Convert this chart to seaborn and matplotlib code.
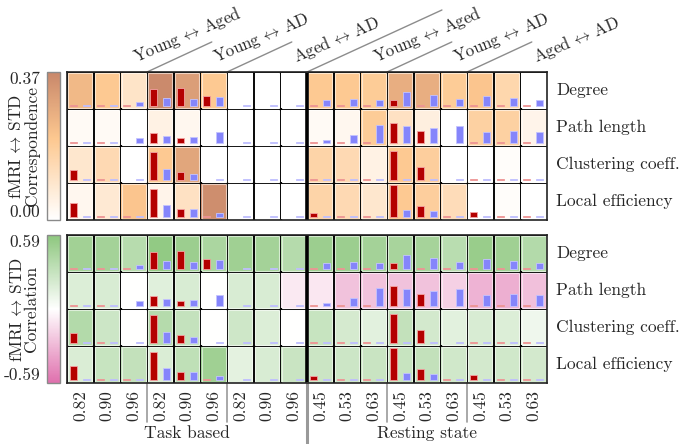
import numpy as np
import pandas as pd
import matplotlib
matplotlib.use("Agg")
import matplotlib.pyplot as plt
import seaborn as sns
from matplotlib.colors import LinearSegmentedColormap, Normalize
from matplotlib.patches import Rectangle
from matplotlib.transforms import blended_transform_factory

sns.set_theme(style="white")
plt.rcParams['font.family'] = ['cmr10', 'DejaVu Serif']
plt.rcParams['mathtext.fontset'] = 'cm'
plt.rcParams['axes.unicode_minus'] = False
plt.rcParams['axes.formatter.use_mathtext'] = True

nan = np.nan

measures = ["Degree", "Path length", "Clustering coeff.", "Local efficiency"]
thresholds = ["0.82", "0.90", "0.96"] * 3 + ["0.45", "0.53", "0.63"] * 3
pairs = [r"Young$\,\leftrightarrow\,$Aged", r"Young$\,\leftrightarrow\,$AD",
         r"Aged$\,\leftrightarrow\,$AD"] * 2

# fMRI <-> STD correspondence (top panel)
correspondence = np.array([
    [0.24, 0.20, 0.10, 0.36, 0.31, 0.20, 0, 0, 0, 0.20, 0.20, 0.19, 0.27, 0.27, 0.19, 0.21, 0.15, 0.00],
    [0.02, 0.02, 0.00, 0.05, 0.03, 0.00, 0, 0, 0, 0.02, 0.03, 0.19, 0.11, 0.06, 0.00, 0.17, 0.17, 0.04],
    [0.09, 0.14, 0.00, 0.20, 0.29, 0.00, 0, 0, 0, 0.16, 0.14, 0.05, 0.20, 0.18, 0.00, 0.00, 0.01, 0.00],
    [0.03, 0.08, 0.21, 0.04, 0.11, 0.35, 0, 0, 0, 0.16, 0.14, 0.09, 0.20, 0.18, 0.13, 0.00, 0.01, 0.00],
])

# fMRI <-> STD correlation (bottom panel)
correlation = np.array([
    [0.48, 0.47, 0.37, 0.56, 0.51, 0.43, 0.49, 0.47, 0.38, 0.51, 0.51, 0.47, 0.45, 0.46, 0.36, 0.53, 0.49, 0.39],
    [0.18, 0.20, 0.00, 0.16, 0.20, 0.00, 0.20, 0.20, -0.09, -0.10, -0.25, -0.25, -0.25, -0.25, -0.19, -0.31, -0.33, -0.26],
    [0.39, 0.26, 0.00, 0.38, 0.30, 0.00, 0.25, 0.18, 0.00, 0.29, 0.22, 0.15, 0.31, 0.23, 0.15, 0.20, 0.18, 0.08],
    [0.19, 0.29, 0.31, 0.19, 0.33, 0.49, 0.14, 0.20, 0.28, 0.27, 0.26, 0.28, 0.29, 0.31, 0.24, 0.23, 0.24, 0.23],
])

# bar heights as a fraction of the cell height
red_bars = np.array([
    [.04, .04, .04, .46, .48, .26, nan, nan, nan, .04, .04, .04, .16, .04, .04, .04, .04, .04],
    [.04, .04, nan, .27, .14, nan, nan, nan, nan, .04, .04, .04, .54, .32, nan, .04, .04, .04],
    [.28, .04, nan, .76, .22, nan, nan, nan, nan, .04, .04, .04, .78, .35, nan, .04, .04, .04],
    [.37, .04, .04, .76, .22, .04, nan, nan, nan, .10, .04, .04, .86, .31, .04, .14, .04, .04],
])
blue_bars = np.array([
    [.04, .04, .10, .21, .19, .24, .04, .04, .04, .17, .20, .16, .37, .30, .18, .28, .22, .16],
    [.04, .04, .14, .18, .17, .29, .04, .04, .04, .08, .21, .48, .47, .41, .45, .30, .33, .30],
    [.04, .04, .04, .31, .17, .04, .04, .04, .04, .04, .04, .04, .04, .04, .04, .04, .04, .04],
    [.04, .04, .04, .33, .21, .11, .04, .04, .04, .04, .04, .04, .18, .15, .04, .04, .04, .04],
])

cmap_corresp = LinearSegmentedColormap.from_list(
    "corresp", [(0, "#ffffff"), (0.55, "#fdc890"), (1, "#c8876a")])
cmap_correl = LinearSegmentedColormap.from_list(
    "correl", [(0, "#df70ad"), (0.5, "#ffffff"), (1, "#8dc77e")])

W, H = 680, 444
fig = plt.figure(figsize=(W / 100, H / 100), dpi=100)


def px_axes(l, t, r, b):
    return fig.add_axes([l / W, 1 - b / H, (r - l) / W, (b - t) / H])


ax_top = px_axes(67, 72, 547, 220)
cax_top = px_axes(47, 72, 60, 220)
ax_bot = px_axes(67, 235, 547, 383)
cax_bot = px_axes(47, 235, 60, 383)

panels = [
    (ax_top, cax_top, correspondence, cmap_corresp, 0.0, 0.37, ["0.37", "0.00"], "Correspondence", False),
    (ax_bot, cax_bot, correlation, cmap_correl, -0.59, 0.59, ["0.59", "-0.59"], "Correlation", thresholds),
]

fs = 12.5
x = np.arange(len(thresholds))

for ax, cax, vals, cmap, vmin, vmax, cticks, name, xlabels in panels:
    df = pd.DataFrame(vals, index=measures, columns=thresholds)
    sns.heatmap(df, ax=ax, cbar_ax=cax, cmap=cmap, vmin=vmin, vmax=vmax,
                linewidths=1.2, linecolor="black",
                xticklabels=xlabels, yticklabels=False)
    norm = Normalize(vmin, vmax)

    # lighter inner edge of every cell
    for j in range(vals.shape[0]):
        for i in range(vals.shape[1]):
            c = np.array(cmap(norm(vals[j, i]))[:3])
            edge = c + (1 - c) * 0.55
            ax.add_patch(Rectangle((i + 0.05, j + 0.04), 0.9, 0.92, fill=False,
                                   edgecolor=edge, linewidth=0.8))

    # the bars inside the cells
    for j in range(vals.shape[0]):
        m = ~np.isnan(red_bars[j])
        ax.bar(x[m] + 0.245, -red_bars[j][m], bottom=j + 0.92, width=0.27,
               color="#b40000", edgecolor="#f3a3a3", linewidth=0.6)
        m = ~np.isnan(blue_bars[j])
        ax.bar(x[m] + 0.73, -blue_bars[j][m], bottom=j + 0.92, width=0.27,
               color="#8585fb", edgecolor="#c4c4ff", linewidth=0.6)

    ax.axvline(9, color="black", lw=2.6)
    for sp in ax.spines.values():
        sp.set_visible(True)
        sp.set_color("#222222")
        sp.set_linewidth(1.2)

    for j, meas in enumerate(measures):
        ax.text(18.35, j + 0.5, meas, va="center", ha="left", fontsize=fs)

    # colorbar
    cbar = ax.collections[0].colorbar
    cbar.outline.set_edgecolor("#8a8a8a")
    cbar.outline.set_linewidth(1.0)
    cax.yaxis.set_ticks_position("left")
    cax.set_yticks([vmax, vmin])
    cax.set_yticklabels(cticks, fontsize=fs)
    cax.tick_params(length=0, pad=5)
    labs = cax.get_yticklabels()
    labs[0].set_va("top")
    labs[1].set_va("bottom")
    pos = cax.get_position()
    fig.text(24 / W, pos.y0 + pos.height / 2, "fMRI$\\,\\leftrightarrow\\,$STD\n" + name,
             rotation=90, ha="center", va="center", multialignment="center",
             fontsize=fs, linespacing=0.95)

# comparison labels and guide lines above the grid
tr_top = blended_transform_factory(ax_top.transData, ax_top.transAxes)
for k, lab in enumerate(pairs):
    b = 3 * (k + 1)
    ax_top.text(b - 0.41, 1.065, lab, transform=tr_top, rotation=23,
                rotation_mode="anchor", ha="left", va="baseline", fontsize=12.2)
    if b < 18:
        if b == 9:
            ax_top.plot([b, b + 5.06], [1, 1.419], transform=tr_top,
                        color="#8c8c8c", lw=1, clip_on=False)
        else:
            ax_top.plot([b, b + 2.43], [1, 1.203], transform=tr_top,
                        color="#8c8c8c", lw=1, clip_on=False)

# threshold labels and group separators below the grid
ax_bot.set_xticks(x + 0.5)
ax_bot.set_xticklabels(thresholds, rotation=90, fontsize=fs)
ax_bot.tick_params(axis="x", length=0, pad=5)
ax_bot.set_xlabel("")
ax_top.set_xlabel("")

tr_bot = blended_transform_factory(ax_bot.transData, ax_bot.transAxes)
for b in [3, 6, 12, 15]:
    ax_bot.plot([b, b], [0, -0.264], transform=tr_bot, color="#999999",
                lw=1.2, clip_on=False)
ax_bot.plot([9, 9], [0, -0.42], transform=tr_bot, color="#999999",
            lw=2.2, clip_on=False)
ax_bot.text(4.5, -0.338, "Task based", transform=tr_bot, ha="center",
            va="center", fontsize=fs)
ax_bot.text(13.5, -0.338, "Resting state", transform=tr_bot, ha="center",
            va="center", fontsize=fs)

fig.savefig("out.png", dpi=100)
